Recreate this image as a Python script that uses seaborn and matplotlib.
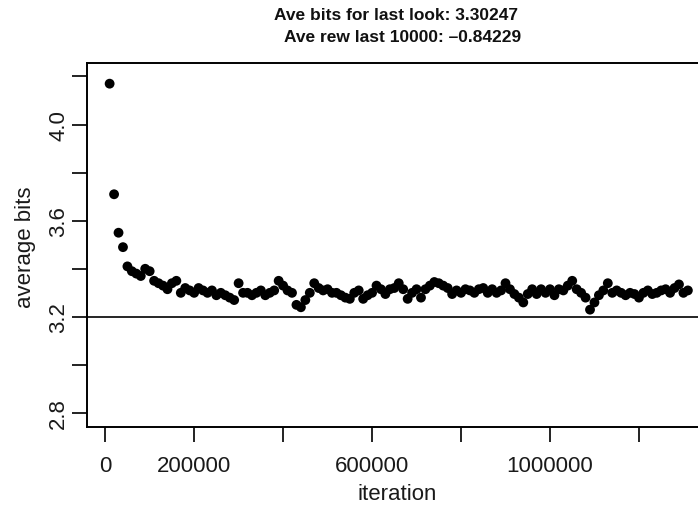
import numpy as np
import pandas as pd
import matplotlib
matplotlib.use("Agg")
import matplotlib.pyplot as plt
import seaborn as sns

# ---- data ----
iteration = [10000 * i for i in range(1, 132)]
average_bits = [
    4.17, 3.71, 3.55, 3.49, 3.41, 3.39, 3.38, 3.37, 3.40, 3.39,
    3.35, 3.34, 3.33, 3.315, 3.34, 3.35, 3.30, 3.32, 3.31, 3.30,
    3.32, 3.31, 3.30, 3.31, 3.29, 3.30, 3.29, 3.28, 3.27, 3.34,
    3.30, 3.30, 3.29, 3.30, 3.31, 3.29, 3.30, 3.31, 3.35, 3.33,
    3.31, 3.30, 3.25, 3.24, 3.27, 3.30, 3.34, 3.32, 3.31, 3.315,
    3.30, 3.30, 3.29, 3.28, 3.275, 3.30, 3.31, 3.275, 3.29, 3.30,
    3.33, 3.315, 3.295, 3.315, 3.32, 3.34, 3.315, 3.275, 3.30, 3.315,
    3.28, 3.315, 3.33, 3.345, 3.34, 3.33, 3.32, 3.295, 3.31, 3.30,
    3.315, 3.31, 3.30, 3.315, 3.32, 3.30, 3.315, 3.30, 3.31, 3.34,
    3.315, 3.295, 3.28, 3.26, 3.295, 3.315, 3.295, 3.315, 3.30, 3.315,
    3.29, 3.315, 3.31, 3.33, 3.35, 3.315, 3.30, 3.28, 3.23, 3.26,
    3.29, 3.31, 3.34, 3.30, 3.31, 3.30, 3.29, 3.30, 3.295, 3.28,
    3.30, 3.31, 3.295, 3.30, 3.31, 3.315, 3.30, 3.32, 3.335, 3.30,
    3.31,
]
reference_level = 3.2
x_ticks = [0, 200000, 400000, 600000, 800000, 1000000, 1200000]
x_tick_labels = ["0", "200000", "", "600000", "", "1000000", ""]
y_ticks = [2.8, 3.0, 3.2, 3.4, 3.6, 3.8, 4.0, 4.2]
y_tick_labels = ["2.8", "", "3.2", "", "3.6", "", "4.0", ""]
title_line1 = "Ave bits for last look: 3.30247"
title_line2 = "Ave rew last 10000: \u20130.84229"

df = pd.DataFrame({"iteration": iteration, "average bits": average_bits})

sns.set_style("ticks")
plt.rcParams["font.family"] = ["Liberation Sans", "DejaVu Sans"]

W, H = 698, 506
fig = plt.figure(figsize=(W / 100, H / 100), dpi=100)
left, right, top, bottom = 86.5, 711.0, 64.0, 427.5
ax = fig.add_axes([left / W, 1 - bottom / H, (right - left) / W, (bottom - top) / H])

sns.scatterplot(data=df, x="iteration", y="average bits", color="black",
                s=50, edgecolor="none", linewidth=0, ax=ax, zorder=3)
ax.axhline(reference_level, color="black", lw=1.2, zorder=2)

ax.set_xlim(-42000, 1362000)
ax.set_ylim(2.744, 4.256)
ax.set_xticks(x_ticks)
ax.set_xticklabels(x_tick_labels)
ax.set_yticks(y_ticks)
ax.set_yticklabels(y_tick_labels)

for sp in ax.spines.values():
    sp.set_linewidth(1.4)
    sp.set_color("black")
    sp.set_visible(True)

ax.tick_params(axis="both", length=10.5, width=1.4, color="#222222",
               labelsize=16, labelcolor="#1a1a1a", direction="out")
ax.tick_params(axis="x", pad=10)
ax.tick_params(axis="y", pad=2, labelrotation=90)
for lab in ax.get_yticklabels():
    lab.set_verticalalignment("center")

ax.set_xlabel("iteration", fontsize=16, color="#1a1a1a")
ax.set_ylabel("average bits", fontsize=16, color="#1a1a1a")
ax.xaxis.set_label_coords((397 - left) / (right - left), -(495 - bottom) / (bottom - top))
ax.xaxis.label.set_verticalalignment("center")
ax.yaxis.set_label_coords((36 - left) / (right - left), 1 - (247 - top) / (bottom - top))

fig.text(395.5 / W, 1 - 15 / H, title_line1, ha="center", va="center",
         fontsize=12.5, fontweight="bold", color="#111111")
fig.text(402.5 / W, 1 - 38 / H, title_line2, ha="center", va="center",
         fontsize=12.5, fontweight="bold", color="#111111")

fig.savefig("out.png", dpi=100)
